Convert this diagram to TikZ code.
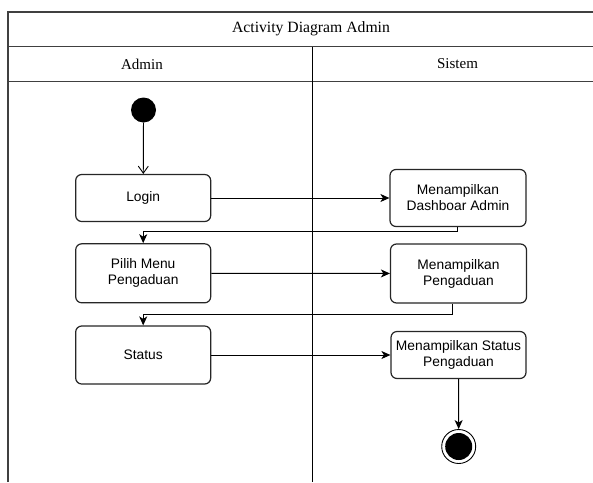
\documentclass[tikz,border=0pt]{standalone}
\usepackage{fontspec}
\setmainfont{Liberation Serif}
\setsansfont{Liberation Sans}
\usetikzlibrary{arrows.meta}
\begin{document}
\begin{tikzpicture}[x=1pt,y=-1pt,
  frame/.style={draw=black!75,line width=1.3pt},
  lane/.style={draw=black,line width=1pt},
  act/.style={draw=black!85,line width=1.2pt,rounded corners=6pt,fill=white,
    align=center,font=\sffamily\fontsize{13.8}{16}\selectfont,inner sep=0pt},
  flow/.style={draw=black,line width=1pt,-{Stealth[length=9pt,width=8pt,inset=2.5pt]}},
  openflow/.style={draw=black,line width=0.9pt,-{Straight Barb[length=7pt,width=10pt]}},
  hdr/.style={font=\fontsize{15}{17}\selectfont}]
\useasboundingbox (0,0) rectangle (593,482);
% swimlane frame
\draw[frame] (8,482) -- (8,12) -- (593,12);
\draw[frame] (8,46.5) -- (593,46.5);
\draw[frame] (8,81.5) -- (593,81.5);
\draw[lane] (312,46.5) -- (312,482);
\node[font=\fontsize{15.7}{18}\selectfont] (title) at (311,29) {Activity Diagram Admin};
\node[hdr] (hadmin) at (142,64) {Admin};
\node[hdr] (hsistem) at (457.5,64) {Sistem};
% nodes
\node[circle,fill=black,minimum size=25pt,inner sep=0pt] (start) at (143.5,110) {};
\node[act,minimum width=135pt,minimum height=47pt] (login) at (143.2,198) {Login};
\node[act,minimum width=136pt,minimum height=57pt] (dash) at (458,198) {Menampilkan\\Dashboar Admin};
\node[act,minimum width=135pt,minimum height=59pt] (pilih) at (143.2,273.3) {Pilih Menu\\Pengaduan};
\node[act,minimum width=136pt,minimum height=59pt] (peng) at (458.5,273.5) {Menampilkan\\Pengaduan};
\node[act,minimum width=135pt,minimum height=58pt] (status) at (143.2,355) {Status};
\node[act,minimum width=135pt,minimum height=47pt] (stpeng) at (458.5,355) {Menampilkan Status\\Pengaduan};
\node[circle,draw=black,line width=0.9pt,minimum size=34pt,inner sep=0pt] (end) at (458.7,446.5) {};
\node[circle,fill=black,minimum size=27pt,inner sep=0pt] (endin) at (end) {};
% connectors
\draw[openflow] (start) -- (login);
\draw[flow] (login) -- (dash);
\draw[flow] (dash.south -| 457.7,0) -- (457.7,231.5) -| (pilih.north);
\draw[flow] (pilih) -- (peng);
\draw[flow] (peng.south -| 452.3,0) -- (452.3,314) -| (status.north);
\draw[flow] (status) -- (stpeng.west |- status);
\draw[flow] (stpeng) -- (end);
\end{tikzpicture}
\end{document}
